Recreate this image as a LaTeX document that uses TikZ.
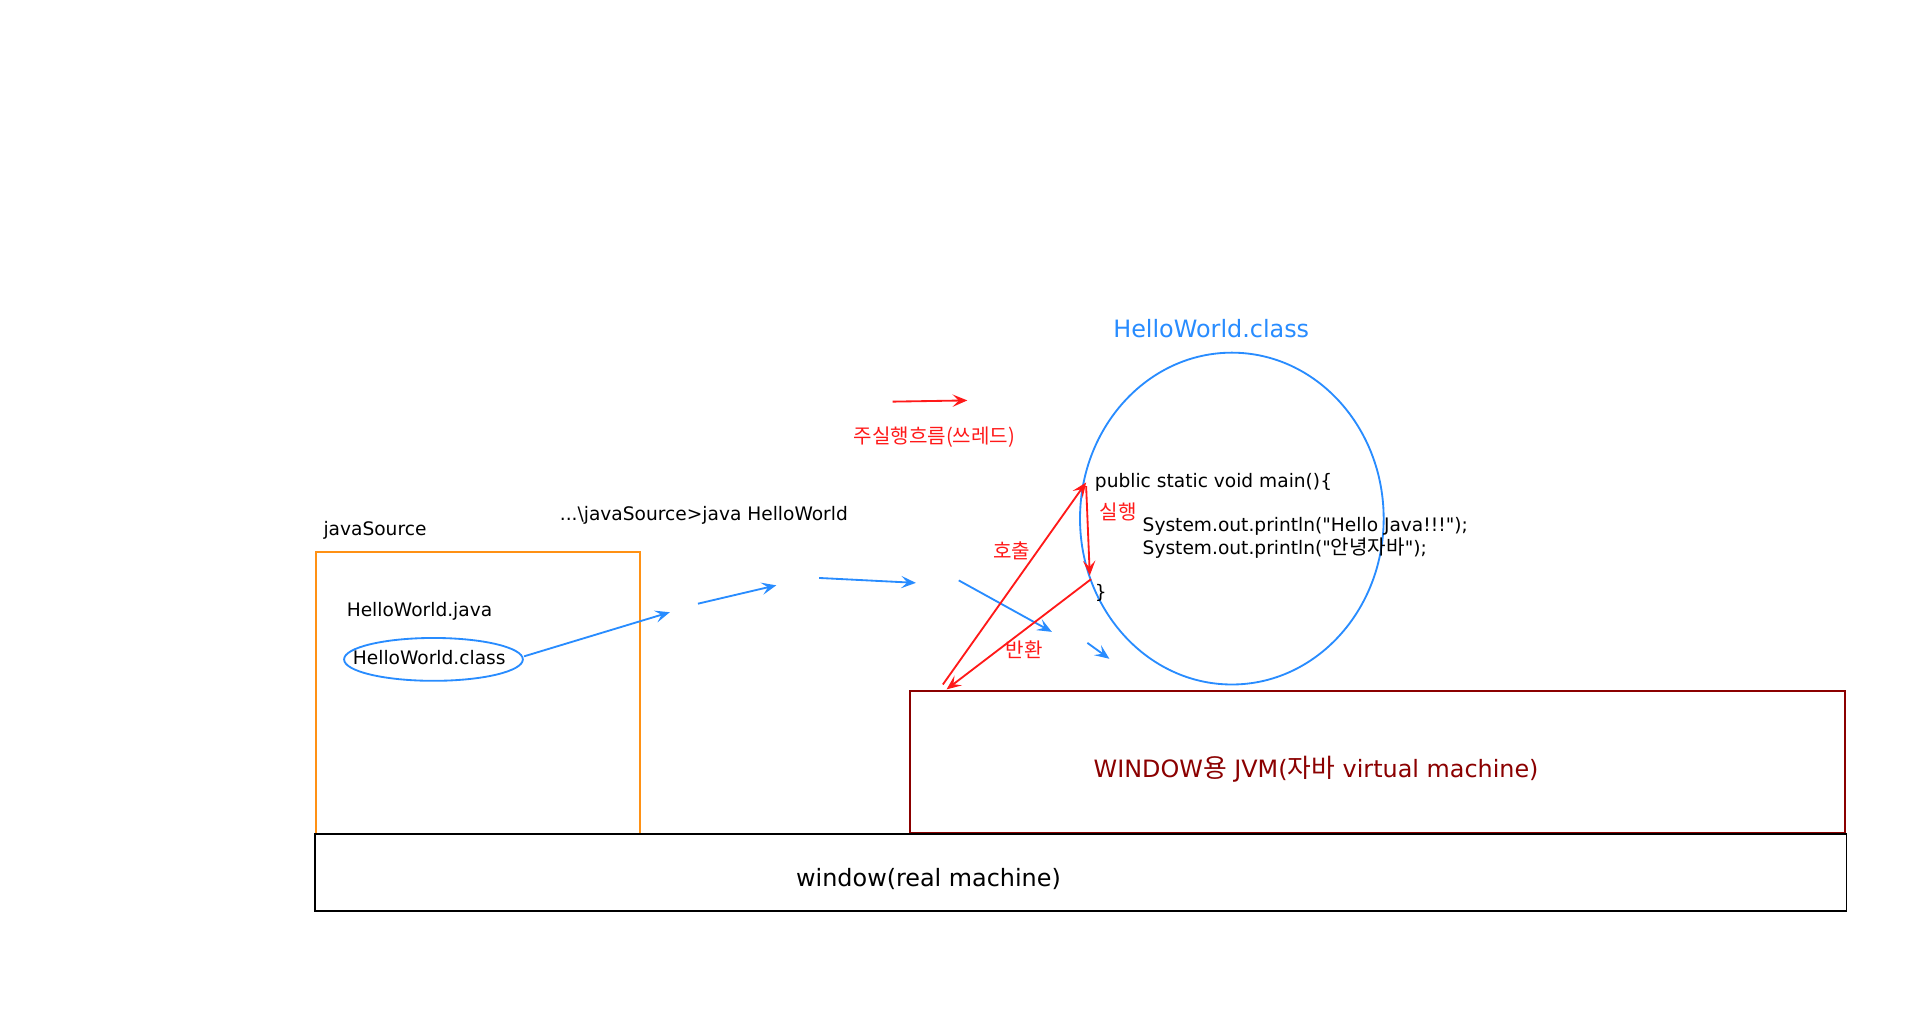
\documentclass[tikz,border=0pt]{standalone}
\usepackage{fontspec}
\setmainfont{DejaVu Sans}[Ligatures=TeXOff]
\newfontfamily\kr{Noto Sans CJK KR}[Scale=1.08]
\usetikzlibrary{arrows.meta,shapes.geometric}
\definecolor{jblue}{RGB}{40,140,255}
\definecolor{jred}{RGB}{255,25,25}
\definecolor{jdark}{RGB}{139,0,0}
\definecolor{jorange}{RGB}{255,145,20}
\tikzset{
  txt/.style={inner sep=0pt, anchor=west, font=\fontsize{15.2}{18}\selectfont},
  bigtxt/.style={inner sep=0pt, anchor=west, font=\fontsize{19.5}{23}\selectfont},
  flow/.style={draw=jblue, line width=1.5pt, -{Stealth[length=12pt,width=10pt,inset=5pt]}},
  thread/.style={draw=jred, line width=1.5pt, -{Stealth[length=12pt,width=10pt,inset=5pt]}},
  box/.style={draw, line width=1.5pt, inner sep=0pt, outer sep=0pt},
}
\begin{document}
\begin{tikzpicture}[x=1pt,y=-1pt]
\useasboundingbox (0,0) rectangle (1568,830);
\fill[white] (0,0) rectangle (1568,830);

% boxes
\node[box, draw=jorange, minimum width=265pt, minimum height=230pt] (src) at (390.5,566) {};
\node[box, draw=jdark, minimum width=764pt, minimum height=116pt] (jvm) at (1125,622) {};
\node[box, draw=black, minimum width=1251pt, minimum height=63pt] (real) at (882.5,712.5) {};
\node[box, draw=jblue, ellipse, minimum width=248pt, minimum height=271pt] (cls) at (1006,423.5) {};
\node[box, draw=jblue, ellipse, minimum width=146pt, minimum height=35pt] (small) at (354,538.5) {};

% texts
\node[bigtxt, text=jblue] (clstitle) at (909,268) {HelloWorld.class};
\node[txt] (srclabel) at (264,433) {javaSource};
\node[txt] (cmd) at (457,421) {...\textbackslash javaSource>java HelloWorld};
\node[txt] (java) at (283,499) {HelloWorld.java};
\node[txt] (smalltxt) at (288,537) {HelloWorld.class};
\node[txt, text=jred] (threadlbl) at (697,357) {\kr 주실행흐름(쓰레드)};
\node[txt] (main) at (894,394) {public static void main()\{};
\node[txt, text=jred] (run) at (898,418) {\kr 실행};
\node[txt] (line1) at (933,430) {System.out.println("Hello Java!!!");};
\node[txt] (line2) at (933,448) {System.out.println("{\kr 안녕자바}");};
\node[txt] (close) at (894,484) {\}};
\node[txt, text=jred] (call) at (811,450) {\kr 호출};
\node[txt, text=jred] (ret) at (821,531) {\kr 반환};
\node[bigtxt, text=jdark] (jvmtxt) at (893,628) {WINDOW{\kr 용} JVM({\kr 자바} virtual machine)};
\node[bigtxt] (realtxt) at (650,718) {window(real machine)};

% coordinates
\coordinate (b1s) at (428,536); \coordinate (b1e) at (547,500);
\coordinate (b2s) at (570,493); \coordinate (b2e) at (634,478);
\coordinate (b3s) at (669,472); \coordinate (b3e) at (748,476);
\coordinate (b4s) at (783,474); \coordinate (b4e) at (859,516);
\coordinate (b5s) at (888,525); \coordinate (b5e) at (906,538);
\coordinate (legs) at (729,328); \coordinate (lege) at (790,327);
\coordinate (callS) at (770,559); \coordinate (mainP) at (887,394);
\coordinate (runS) at (887,397); \coordinate (endP) at (890,470);
\coordinate (retS) at (891,473); \coordinate (retE) at (773,563);

% blue flow
\draw[flow] (b1s) -- (b1e);
\draw[flow] (b2s) -- (b2e);
\draw[flow] (b3s) -- (b3e);
\draw[flow] (b4s) -- (b4e);
\draw[flow] (b5s) -- (b5e);

% red thread
\draw[thread] (legs) -- (lege);
\draw[thread] (callS) -- (mainP);
\draw[thread] (runS) -- (endP);
\draw[thread] (retS) -- (retE);
\end{tikzpicture}
\end{document}
